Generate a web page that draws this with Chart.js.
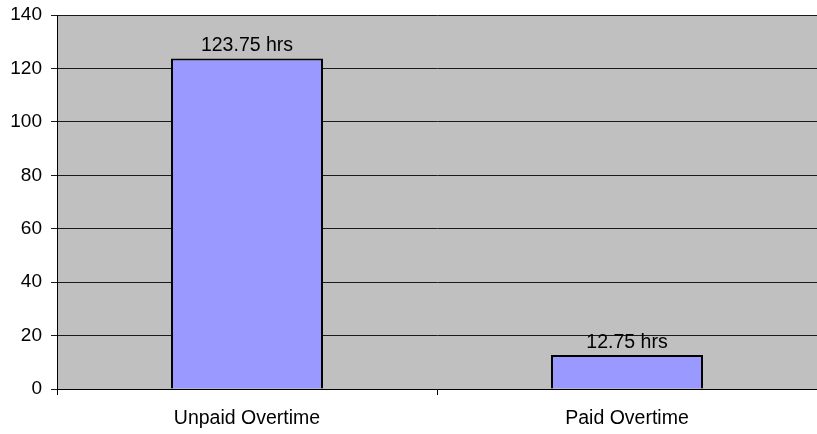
<!DOCTYPE html>
<html>
<head>
<meta charset="utf-8">
<script src="https://cdn.jsdelivr.net/npm/chart.js@4"></script>
<style>
  html, body { margin: 0; padding: 0; background: #fff; }
  #wrap { width: 817px; height: 434px; }
</style>
</head>
<body>
<div id="wrap"><canvas id="otChart"></canvas></div>
<script>
(function () {
    'use strict';

    var categories = ['Unpaid Overtime', 'Paid Overtime'];
    var hours = [123.75, 12.75];
    var valueLabels = ['123.75 hrs', '12.75 hrs'];
    var yTicks = [0, 20, 40, 60, 80, 100, 120, 140];

    var FONT = '"Liberation Sans", Arial, sans-serif';

    var plotBg = {
        id: 'plotBg',
        beforeDraw: function (chart) {
            var a = chart.chartArea;
            var ctx = chart.ctx;
            ctx.save();
            ctx.fillStyle = '#c0c0c0';
            ctx.fillRect(a.left, a.top, a.right - a.left, a.bottom - a.top);
            ctx.restore();
        }
    };

    // value text above each bar
    var barLabels = {
        id: 'barLabels',
        afterDatasetsDraw: function (chart) {
            var ctx = chart.ctx;
            var meta = chart.getDatasetMeta(0);
            ctx.save();
            ctx.fillStyle = '#000';
            ctx.font = '19.5px ' + FONT;
            ctx.textAlign = 'center';
            ctx.textBaseline = 'alphabetic';
            meta.data.forEach(function (bar, i) {
                ctx.fillText(valueLabels[i], bar.x, bar.y - 7);
            });
            ctx.restore();
        }
    };

    var canvas = document.getElementById('otChart');
    new Chart(canvas.getContext('2d'), {
        type: 'bar',
        data: {
            labels: categories,
            datasets: [{
                data: hours,
                backgroundColor: '#9999ff',
                borderColor: '#000',
                borderWidth: 2,
                borderSkipped: 'bottom',
                categoryPercentage: 1,
                barPercentage: 0.4
            }]
        },
        options: {
            responsive: true,
            maintainAspectRatio: false,
            animation: false,
            layout: { padding: { top: 15, right: -6, left: 0, bottom: 0 } },
            plugins: { legend: { display: false }, tooltip: { enabled: false } },
            scales: {
                x: {
                    offset: true,
                    grid: { drawOnChartArea: false, offset: true, color: '#000', tickLength: 6 },
                    border: { color: '#000', width: 1 },
                    ticks: { color: '#000', padding: 12, font: { family: FONT, size: 19.5 } },
                    afterFit: function (s) {
                        s.height = 45;
                        s.paddingLeft = 0;
                        s.paddingRight = 0;
                    }
                },
                y: {
                    min: 0,
                    max: 140,
                    afterBuildTicks: function (s) {
                        s.ticks = yTicks.map(function (v) { return { value: v }; });
                    },
                    grid: { color: '#1a1a1a', tickLength: 6 },
                    border: { color: '#000', width: 1 },
                    ticks: { color: '#000', padding: 9, font: { family: FONT, size: 19 } },
                    afterFit: function (s) {
                        s.width = 57;
                        s.paddingTop = 0;
                        s.paddingBottom = 0;
                    }
                }
            }
        },
        plugins: [plotBg, barLabels]
    });
})();
</script>
</body>
</html>
